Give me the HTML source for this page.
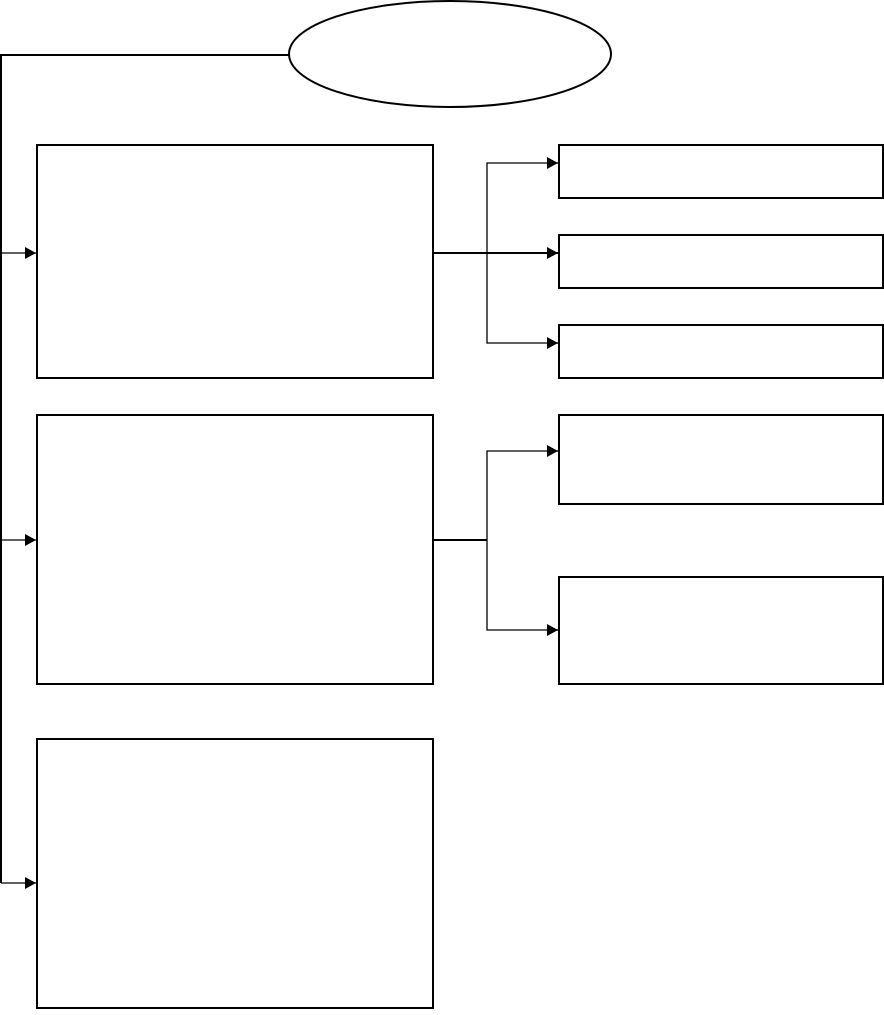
<!DOCTYPE html>
<html><head><style>body{margin:0;background:#fff}</style></head><body>
<svg width="884" height="1010" xmlns="http://www.w3.org/2000/svg">
<defs><marker id="a" markerWidth="11" markerHeight="12" refX="11" refY="6" orient="auto" markerUnits="userSpaceOnUse"><path d="M0,0 L11,6 L0,12z" fill="#000"/></marker></defs>
<g fill="none" stroke="#000" stroke-width="2">
<ellipse cx="450" cy="54" rx="161" ry="53"/>
<rect x="37" y="145" width="396" height="233"/>
<rect x="37" y="415" width="396" height="269"/>
<rect x="37" y="739" width="396" height="269"/>
<rect x="559" y="145" width="324" height="53"/>
<rect x="559" y="235" width="324" height="53"/>
<rect x="559" y="325" width="324" height="53"/>
<rect x="559" y="415" width="324" height="89"/>
<rect x="559" y="577" width="324" height="107"/>
<polyline points="289,55 1,55 1,883"/>
</g>
<g fill="none" stroke="#000" stroke-width="1.3">
<line x1="1" y1="253" x2="36" y2="253" marker-end="url(#a)"/>
<line x1="1" y1="540" x2="36" y2="540" marker-end="url(#a)"/>
<line x1="1" y1="883" x2="36" y2="883" marker-end="url(#a)"/>
<line x1="433" y1="253" x2="558" y2="253" stroke-width="2" marker-end="url(#a)"/>
<polyline points="558,163 487,163 487,343 558,343"/>
<line x1="551" y1="163" x2="558" y2="163" marker-end="url(#a)"/>
<line x1="551" y1="343" x2="558" y2="343" marker-end="url(#a)"/>
<line x1="433" y1="540" x2="487" y2="540" stroke-width="2"/>
<polyline points="558,451 487,451 487,630 558,630"/>
<line x1="551" y1="451" x2="558" y2="451" marker-end="url(#a)"/>
<line x1="551" y1="630" x2="558" y2="630" marker-end="url(#a)"/>
</g>
</svg>
</body></html>
